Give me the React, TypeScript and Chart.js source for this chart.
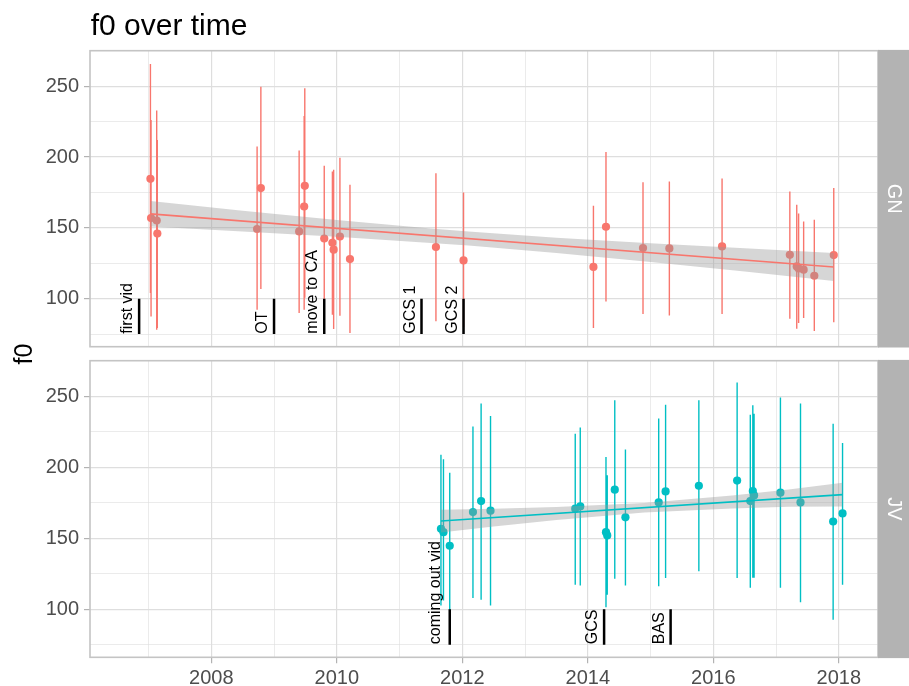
import React, { useEffect, useRef } from "react";
import { Chart, registerables } from "chart.js";

Chart.register(...registerables);

// ---- axis ticks ----
const xMajorTicks = [2008, 2010, 2012, 2014, 2016, 2018];
const xMinorTicks = [2007, 2009, 2011, 2013, 2015, 2017];
const yMajorTicks = [100, 150, 200, 250];
const yMinorTicks = [75, 125, 175, 225, 275];

// ---- GN panel ----
const gnDates = [2007.03, 2007.04, 2007.13, 2007.14, 2008.73, 2008.79, 2009.40, 2009.48, 2009.49, 2009.80, 2009.93, 2009.95, 2010.05, 2010.21, 2011.58, 2012.02, 2014.09, 2014.29, 2014.88, 2015.30, 2016.14, 2017.22, 2017.33, 2017.36, 2017.44, 2017.61, 2017.92];
const gnF0 = [184.6, 156.9, 155.2, 146.0, 149.2, 178.1, 147.5, 165.1, 179.7, 142.5, 139.5, 134.6, 143.9, 128.0, 136.5, 127.0, 122.4, 150.8, 135.8, 135.5, 136.9, 131.0, 122.8, 121.4, 120.5, 116.2, 130.8];
const gnLow = [104.0, 87.5, 78.1, 79.3, 92.2, 106.8, 89.9, 92.2, 100.7, 99.3, 88.7, 78.6, 88.0, 75.8, 84.0, 80.0, 79.3, 98.1, 89.2, 88.2, 89.2, 85.9, 78.8, 82.9, 86.4, 77.2, 83.3];
const gnHigh = [265.7, 226.2, 232.8, 212.1, 207.4, 249.7, 204.6, 229.0, 248.6, 193.8, 189.8, 191.0, 199.6, 180.4, 188.6, 175.0, 165.6, 203.5, 182.3, 182.7, 184.8, 175.7, 166.3, 160.2, 154.5, 155.7, 178.1];
const gnFitX = [2007.03, 2017.92];
const gnFitY = [159.9, 122.4];
const gnBandX = [2007.03, 2008.5, 2010.0, 2011.5, 2012.1, 2013.5, 2015.0, 2016.5, 2017.92];
const gnBandUpper = [168.9, 162.1, 155.6, 149.6, 147.5, 143.1, 139.1, 135.6, 132.3];
const gnBandLower = [150.9, 147.5, 143.8, 139.4, 137.5, 132.3, 125.9, 119.2, 112.5];
const gnEventLabels = ["first vid", "OT", "move to CA", "GCS 1", "GCS 2"];
const gnEventDates = [2006.85, 2009.0, 2009.8, 2011.35, 2012.02];

// ---- JV panel ----
const jvDates = [2011.66, 2011.70, 2011.80, 2012.17, 2012.30, 2012.45, 2013.80, 2013.88, 2014.29, 2014.31, 2014.43, 2014.60, 2015.13, 2015.24, 2015.77, 2016.38, 2016.59, 2016.63, 2016.65, 2017.07, 2017.39, 2017.91, 2018.06];
const jvF0 = [156.7, 154.3, 144.7, 168.4, 176.2, 169.4, 170.8, 172.4, 154.3, 152.0, 184.2, 164.7, 175.2, 183.0, 187.0, 190.6, 176.2, 183.2, 180.2, 182.1, 175.2, 161.8, 167.5];
const jvLow = [102.6, 106.1, 95.0, 107.8, 106.6, 102.6, 117.2, 116.7, 101.4, 110.2, 121.4, 116.7, 116.2, 121.9, 126.8, 121.9, 115.1, 122.1, 122.1, 115.1, 104.9, 92.5, 117.2];
const jvHigh = [208.9, 205.6, 196.2, 228.8, 244.9, 236.1, 223.7, 228.1, 207.2, 194.3, 247.2, 212.6, 234.3, 244.1, 247.2, 259.7, 237.1, 243.7, 237.8, 249.1, 244.9, 230.7, 217.1];
const jvFitX = [2011.66, 2018.06];
const jvFitY = [162.1, 180.7];
const jvBandX = [2011.66, 2012.5, 2013.5, 2014.9, 2016.3, 2017.2, 2018.06];
const jvBandUpper = [170.1, 170.8, 172.0, 174.8, 180.2, 184.3, 189.1];
const jvBandLower = [154.1, 158.2, 162.8, 168.2, 171.0, 172.1, 172.3];
const jvEventLabels = ["coming out vid", "GCS", "BAS"];
const jvEventDates = [2011.8, 2014.26, 2015.32];

const eventBarRange = [75, 100];
const eventLabelY = 75.3;

const FONT = '"Liberation Sans", Arial, Helvetica, sans-serif';
const allXTicks = [...xMinorTicks, ...xMajorTicks].sort((a, b) => a - b);
const allYTicks = [...yMinorTicks, ...yMajorTicks].sort((a, b) => a - b);

const panels = [
  {
    name: "GN", color: "#F8766D",
    dates: gnDates, f0: gnF0, low: gnLow, high: gnHigh,
    fitX: gnFitX, fitY: gnFitY, bandX: gnBandX, bandU: gnBandUpper, bandL: gnBandLower,
    evLabels: gnEventLabels, evDates: gnEventDates,
  },
  {
    name: "JV", color: "#00BFC4",
    dates: jvDates, f0: jvF0, low: jvLow, high: jvHigh,
    fitX: jvFitX, fitY: jvFitY, bandX: jvBandX, bandU: jvBandUpper, bandL: jvBandLower,
    evLabels: jvEventLabels, evDates: jvEventDates,
  },
];

const decorPlugin = {
  id: "decor",
  afterDatasetsDraw(chart: any, _args: any, opts: any) {
    const { ctx, chartArea: a, scales } = chart;
    const xs = scales.x, ys = scales.y;
    ctx.save();
    // event labels
    ctx.font = `16px ${FONT}`;
    ctx.fillStyle = "#000000";
    ctx.textAlign = "left";
    ctx.textBaseline = "alphabetic";
    opts.labels.forEach((lab: string, i: number) => {
      const px = xs.getPixelForValue(opts.dates[i]);
      const py = ys.getPixelForValue(eventLabelY);
      const m = ctx.measureText(lab);
      const desc = Math.max(0, m.actualBoundingBoxDescent || 0);
      ctx.save();
      ctx.translate(px - 7 - desc, py);
      ctx.rotate(-Math.PI / 2);
      ctx.fillText(lab, 0, 0);
      ctx.restore();
    });
    // panel border
    ctx.strokeStyle = "#C4C4C4";
    ctx.lineWidth = 1.6;
    ctx.strokeRect(a.left, a.top, a.right - a.left, a.bottom - a.top);
    // strip
    ctx.fillStyle = "#B3B3B3";
    ctx.fillRect(a.right, a.top - 0.8, chart.width - a.right, a.bottom - a.top + 1.6);
    ctx.fillStyle = "#FFFFFF";
    ctx.font = `20px ${FONT}`;
    ctx.textAlign = "center";
    ctx.textBaseline = "middle";
    ctx.save();
    ctx.translate((a.right + chart.width) / 2, (a.top + a.bottom) / 2);
    ctx.rotate(Math.PI / 2);
    ctx.fillText(opts.name, 0, 0);
    ctx.restore();
    if (opts.title) {
      ctx.fillStyle = "#000000";
      ctx.font = `30px ${FONT}`;
      ctx.textAlign = "left";
      ctx.textBaseline = "alphabetic";
      ctx.fillText(opts.title, 90.7, 35);
    }
    if (opts.yTitle) {
      ctx.fillStyle = "#000000";
      ctx.font = `25px ${FONT}`;
      ctx.textAlign = "center";
      ctx.textBaseline = "middle";
      ctx.save();
      ctx.translate(25, 354);
      ctx.rotate(-Math.PI / 2);
      ctx.fillText(opts.yTitle, 0, 0);
      ctx.restore();
    }
    ctx.restore();
  },
};

function makeConfig(p: any, bottom: boolean): any {
  const errData: any[] = [];
  p.dates.forEach((d: number, i: number) => {
    errData.push({ x: d, y: p.low[i] }, { x: d, y: p.high[i] }, { x: d, y: null });
  });
  const barData: any[] = [];
  p.evDates.forEach((d: number) => {
    barData.push({ x: d, y: eventBarRange[0] }, { x: d, y: eventBarRange[1] }, { x: d, y: null });
  });
  const pts = p.dates.map((d: number, i: number) => ({ x: d, y: p.f0[i] }));
  const fit = p.fitX.map((x: number, i: number) => ({ x, y: p.fitY[i] }));
  const up = p.bandX.map((x: number, i: number) => ({ x, y: p.bandU[i] }));
  const lo = p.bandX.map((x: number, i: number) => ({ x, y: p.bandL[i] }));
  const isMajorX = (v: number) => xMajorTicks.includes(v);
  const isMajorY = (v: number) => yMajorTicks.includes(v);

  return {
    type: "line",
    data: {
      datasets: [
        { data: barData, borderColor: "#000000", borderWidth: 2.5, pointRadius: 0, order: 0, spanGaps: false, borderCapStyle: "butt" },
        { data: fit, borderColor: p.color, borderWidth: 1.6, pointRadius: 0, order: 1 },
        { data: up, borderColor: "rgba(0,0,0,0)", borderWidth: 0, pointRadius: 0, order: 2, fill: "+1", backgroundColor: "rgba(153,153,153,0.4)" },
        { data: lo, borderColor: "rgba(0,0,0,0)", borderWidth: 0, pointRadius: 0, order: 3, fill: false },
        { data: pts, showLine: false, pointRadius: 4.1, pointBackgroundColor: p.color, pointBorderWidth: 0, borderColor: p.color, order: 4 },
        { data: errData, borderColor: p.color, borderWidth: 1.4, pointRadius: 0, order: 5, spanGaps: false, borderCapStyle: "butt" },
      ],
    },
    options: {
      animation: false,
      responsive: false,
      devicePixelRatio: 1,
      events: [],
      layout: {
        padding: bottom
          ? { top: 360.7, right: 31, bottom: 0, left: 0 }
          : { top: 50.7, right: 31, bottom: 339.3, left: 0 },
      },
      scales: {
        x: {
          type: "linear",
          min: 2006.067,
          max: 2018.625,
          afterBuildTicks: (s: any) => { s.ticks = allXTicks.map((v) => ({ value: v })); },
          afterFit: (s: any) => { s.height = bottom ? 28.7 : 0; },
          border: { display: false },
          grid: {
            color: "#DEDEDE",
            lineWidth: (c: any) => (c.tick && isMajorX(c.tick.value) ? 1.2 : 0.6),
            drawTicks: bottom,
            tickLength: 6,
            tickWidth: 1.2,
            tickColor: (c: any) => (c.tick && isMajorX(c.tick.value) ? "#B3B3B3" : "rgba(0,0,0,0)"),
          },
          ticks: {
            display: bottom,
            autoSkip: false,
            maxRotation: 0,
            minRotation: 0,
            padding: 3,
            color: "#4D4D4D",
            font: { family: FONT, size: 20 },
            callback: (v: number) => (isMajorX(v) ? String(v) : ""),
          },
        },
        y: {
          type: "linear",
          min: 66.1,
          max: 275.1,
          afterBuildTicks: (s: any) => { s.ticks = allYTicks.map((v) => ({ value: v })); },
          afterFit: (s: any) => { s.width = 90; },
          border: { display: false },
          grid: {
            color: "#DEDEDE",
            lineWidth: (c: any) => (c.tick && isMajorY(c.tick.value) ? 1.2 : 0.6),
            drawTicks: true,
            tickLength: 6,
            tickWidth: 1.2,
            tickColor: (c: any) => (c.tick && isMajorY(c.tick.value) ? "#B3B3B3" : "rgba(0,0,0,0)"),
          },
          ticks: {
            autoSkip: false,
            padding: 5,
            color: "#4D4D4D",
            font: { family: FONT, size: 20 },
            callback: (v: number) => (isMajorY(v) ? String(v) : ""),
          },
        },
      },
      plugins: {
        legend: { display: false },
        tooltip: { enabled: false },
        title: { display: false },
        decor: {
          name: p.name,
          labels: p.evLabels,
          dates: p.evDates,
          title: bottom ? null : "f0 over time",
          yTitle: bottom ? "f0" : null,
        },
      },
    },
    plugins: [decorPlugin],
  };
}

export default function App() {
  const topRef = useRef<HTMLCanvasElement>(null);
  const botRef = useRef<HTMLCanvasElement>(null);
  useEffect(() => {
    const c1 = new Chart(topRef.current as HTMLCanvasElement, makeConfig(panels[0], false));
    const c2 = new Chart(botRef.current as HTMLCanvasElement, makeConfig(panels[1], true));
    return () => {
      c1.destroy();
      c2.destroy();
    };
  }, []);
  const cs: any = { position: "absolute", left: 0, top: 0, width: 909, height: 686 };
  return (
    <div style={{ position: "absolute", left: 0, top: 0, width: 909, height: 686, background: "#FFFFFF" }}>
      <canvas ref={topRef} width={909} height={686} style={cs} />
      <canvas ref={botRef} width={909} height={686} style={cs} />
    </div>
  );
}
